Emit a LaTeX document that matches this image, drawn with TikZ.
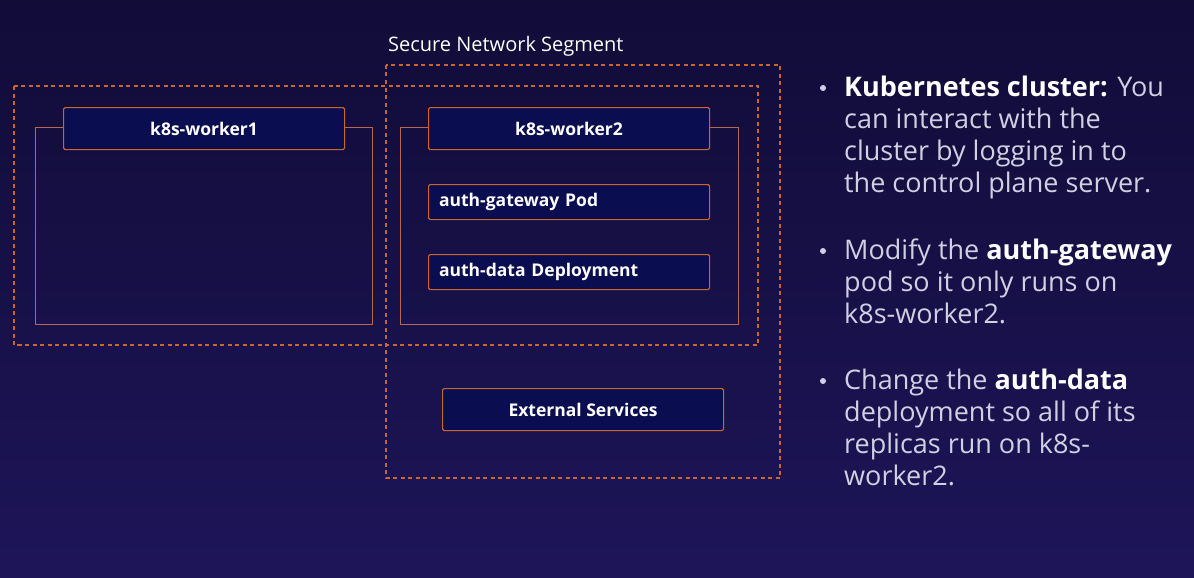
\documentclass[tikz,border=0pt]{standalone}
\usepackage{fontspec}
\setmainfont{Open Sans}
\usetikzlibrary{positioning}

\definecolor{bgtop}{RGB}{17,12,56}
\definecolor{bgbot}{RGB}{29,21,88}
\definecolor{navy}{RGB}{10,14,80}
\definecolor{rust}{RGB}{200,102,46}
\definecolor{dimrust}{RGB}{184,104,82}
\definecolor{softtext}{RGB}{208,208,226}

\begin{document}
\begin{tikzpicture}[x=1pt,y=-1pt]
    \tikzset{zone/.style= {draw=rust, line width=1.1pt, dash pattern=on 4pt off 3.5pt},
             worker/.style= {draw=dimrust, line width=1.3pt, anchor=north west, inner sep=0pt},
             block/.style= {draw=rust, fill=navy, line width=1.1pt, rounded corners=1.5pt, anchor=north west,
                            inner sep=0pt, minimum width=281pt, text=white, font=\fontsize{17.5}{20}\selectfont\bfseries},
             note/.style= {anchor=north west, align=left, inner sep=0pt, text=softtext,
                           font=\fontsize{27}{32}\selectfont},
             bullet/.style= {circle, fill=softtext, inner sep=0pt, minimum size=6pt},}

    % background
    \fill[top color=bgtop, bottom color=bgbot] (0,0) rectangle (1194,578);
    \useasboundingbox (0,0) rectangle (1194,578);

    % dashed zones
    \draw[zone] (14,86) rectangle (758,345);
    \draw[zone] (386,65) rectangle (780,478);
    \node [anchor=south west, inner sep=0pt, text=white, font=\fontsize{20}{22}\selectfont] (seg) at (388,57) {Secure Network Segment};

    % worker nodes
    \node [worker, minimum width=337pt, minimum height=197pt] (w1box) at (35,127) {};
    \node [worker, minimum width=338pt, minimum height=197pt] (w2box) at (400,127) {};
    \node [block, minimum height=42pt] (w1) at (63,107) {k8s-worker1};
    \node [block, minimum height=42pt] (w2) at (428,107) {k8s-worker2};
    \node [block, minimum height=35pt, text width=260pt, align=left] (gw) at (428,184) {auth-gateway Pod};
    \node [block, minimum height=35pt, text width=260pt, align=left] (data) at (428,254) {auth-data Deployment};
    \node [block, minimum height=42pt] (ext) at (442,388) {External Services};

    % notes
    \node [note] (n1) at (844,76) {\textcolor{white}{\bfseries Kubernetes cluster:} You\\can interact with the\\cluster by logging in to\\the control plane server.};
    \node [note] (n2) at (844,239) {Modify the \textcolor{white}{\bfseries auth-gateway}\\pod so it only runs on\\k8s-worker2.};
    \node [note] (n3) at (844,369) {Change the \textcolor{white}{\bfseries auth-data}\\deployment so all of its\\replicas run on k8s-\\worker2.};
    \node [bullet] (b1) at (823,88) {};
    \node [bullet] (b2) at (823,251) {};
    \node [bullet] (b3) at (823,381) {};
\end{tikzpicture}
\end{document}
